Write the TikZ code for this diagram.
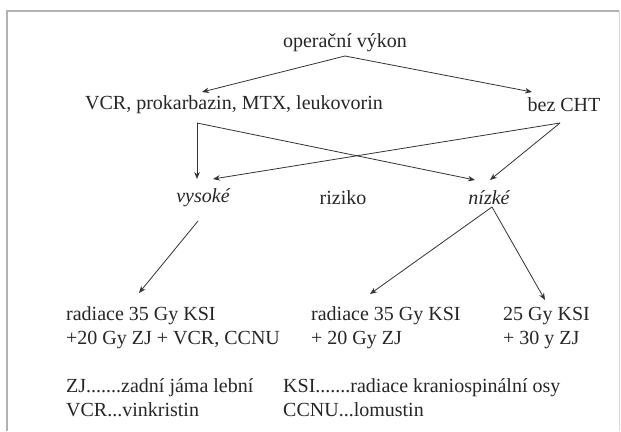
\documentclass[tikz,border=0pt]{standalone}
\usepackage{fontspec}
\setmainfont{Liberation Serif}
\usetikzlibrary{arrows.meta}
\begin{document}
\begin{tikzpicture}[x=1pt,y=-1pt,
  txt/.style={font=\fontsize{20}{24}\selectfont, text=black!85, inner sep=0pt},
  itxt/.style={txt, font=\fontsize{20}{24}\selectfont\itshape},
  blk/.style={txt, align=left, anchor=west},
  arr/.style={draw=black!80, line width=0.8pt, -{Stealth[length=7pt,width=5.5pt]}},
  frameline/.style={draw=black!30, line width=1.6pt}]
\useasboundingbox (0,0) rectangle (621,431);
\draw[frameline] (7,431) -- (7,11) -- (619,11);
\draw[draw=black!15, line width=0.8pt] (619,11) -- (619,431);

% nodes
\node[txt] (op) at (345,43) {operační výkon};
\node[txt] (vcr) at (234,105) {VCR, prokarbazin, MTX, leukovorin};
\node[txt] (bez) at (564,105) {bez CHT};
\node[itxt] (vys) at (203,198) {vysoké};
\node[txt] (riz) at (343,198) {riziko};
\node[itxt] (niz) at (489,198) {nízké};
\node[blk] (t1) at (66,328) {radiace 35 Gy KSI\\+20 Gy ZJ + VCR, CCNU};
\node[blk] (t2) at (311,328) {radiace 35 Gy KSI\\+ 20 Gy ZJ};
\node[blk] (t3) at (503,328) {25 Gy KSI\\+ 30 y ZJ};
\node[txt, anchor=west] (l1) at (66,388) {ZJ.......zadní jáma lební};
\node[txt, anchor=west] (l2) at (283,388) {KSI.......radiace kraniospinální osy};
\node[txt, anchor=west] (l3) at (66,410) {VCR...vinkristin};
\node[txt, anchor=west] (l4) at (283,410) {CCNU...lomustin};

% connector points
\coordinate (opS) at (345,56);
\coordinate (vcrN) at (202,92);
\coordinate (bezN) at (532,92);
\coordinate (vcrS) at (197,123);
\coordinate (bezS) at (560,123);
\coordinate (vysNa) at (197,179);
\coordinate (vysNb) at (213,179);
\coordinate (nizNa) at (475,180);
\coordinate (nizNb) at (490,180);
\coordinate (vysS) at (198,221);
\coordinate (nizS) at (492,207);
\coordinate (t1N) at (139,293);
\coordinate (t2N) at (370,294);
\coordinate (t3N) at (545,300);

% connectors
\draw[arr] (opS) -- (vcrN);
\draw[arr] (opS) -- (bezN);
\draw[arr] (vcrS) -- (vysNa);
\draw[arr] (vcrS) -- (nizNa);
\draw[arr] (bezS) -- (vysNb);
\draw[arr] (bezS) -- (nizNb);
\draw[arr] (vysS) -- (t1N);
\draw[arr] (nizS) -- (t2N);
\draw[arr] (nizS) -- (t3N);
\end{tikzpicture}
\end{document}
